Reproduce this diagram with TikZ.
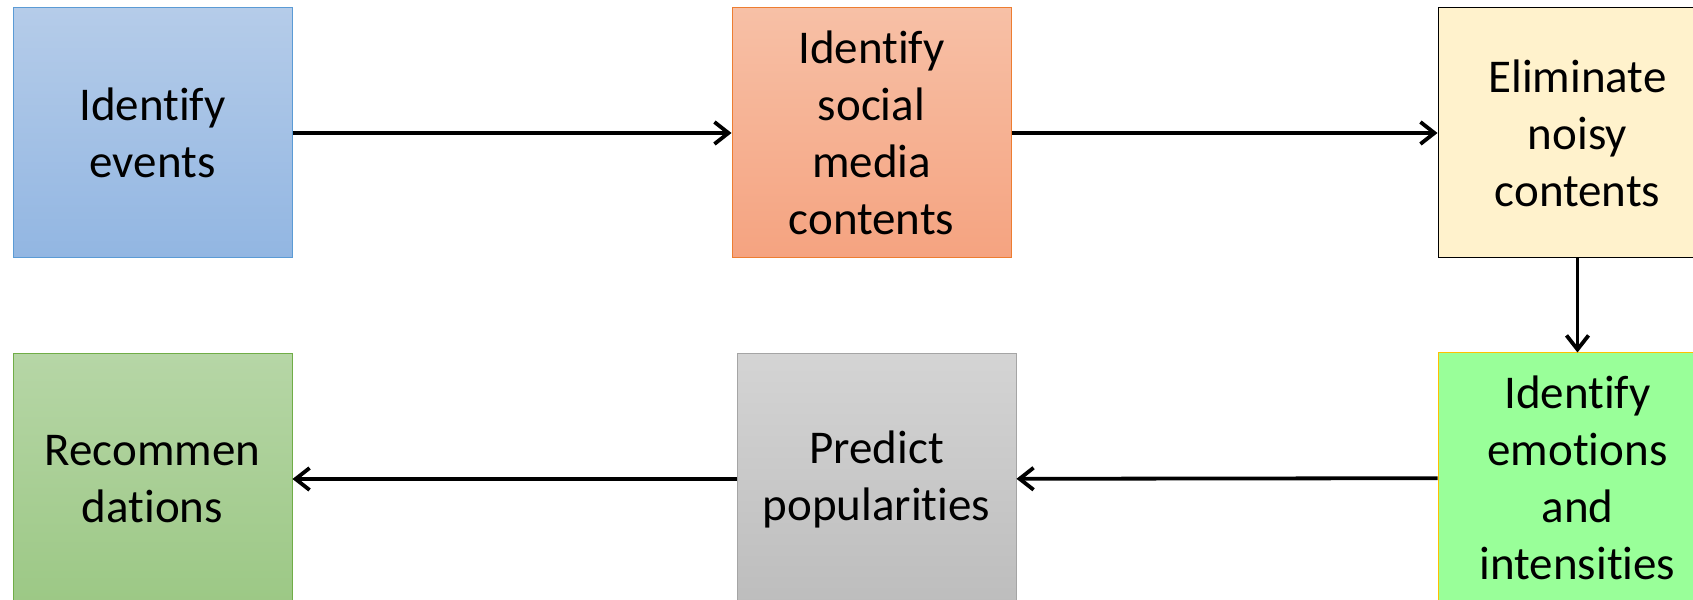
\documentclass[tikz,border=0pt]{standalone}
\usepackage{fontspec}
\setmainfont[RawFeature=-liga]{Carlito}
\usetikzlibrary{positioning, arrows.meta}

\tikzset{
	stepbox/.style={rectangle, minimum width=139.5pt, minimum height=125pt,
		inner sep=0pt, text width=136pt, align=center,
		font=\fontsize{23.5pt}{28.5pt}\selectfont, line width=0.5pt},
	flow/.style={-{Straight Barb[length=7pt, width=11pt]}, line width=1.9pt}
}

\begin{document}
\begin{tikzpicture}[node distance=219.5pt]
		\useasboundingbox (0,0) rectangle (846.5pt,300pt);

		\node[stepbox, draw={rgb,255:red,91;green,155;blue,213},
			top color={rgb,255:red,181;green,204;blue,233},
			bottom color={rgb,255:red,146;green,182;blue,226}]
			(events) at (76.25pt, 233.5pt) {Identify\\events};
		\node[stepbox, right=of events, draw={rgb,255:red,237;green,125;blue,49},
			top color={rgb,255:red,247;green,192;blue,166},
			bottom color={rgb,255:red,245;green,163;blue,128}]
			(social) {Identify\\social\\media\\contents};
		\node[stepbox, right=213pt of social, draw=black,
			fill={rgb,255:red,255;green,242;blue,204}]
			(noisy) {Eliminate\\noisy\\contents};

		\node[stepbox, below=47pt of noisy, draw={rgb,255:red,255;green,192;blue,0},
			fill={rgb,255:red,153;green,255;blue,153}]
			(emotions) {Identify\\emotions\\and\\intensities};
		\node[stepbox, below=47.5pt of social, xshift=2.5pt,
			draw={rgb,255:red,165;green,165;blue,165},
			top color={rgb,255:red,212;green,212;blue,212},
			bottom color={rgb,255:red,189;green,189;blue,189}]
			(predict) {Predict\\popularities};
		\node[stepbox, below=47.5pt of events, draw={rgb,255:red,112;green,173;blue,71},
			top color={rgb,255:red,182;green,214;blue,166},
			bottom color={rgb,255:red,156;green,200;blue,133}]
			(recommend) {Recommen\\dations};

		\draw[flow] (events) -- (social);
		\draw[flow] (social) -- (noisy);
		\draw[flow] (noisy) -- (emotions);
		\draw[flow] (emotions) -- (predict);
		\draw[flow] (predict) -- (recommend);
	\end{tikzpicture}
\end{document}
